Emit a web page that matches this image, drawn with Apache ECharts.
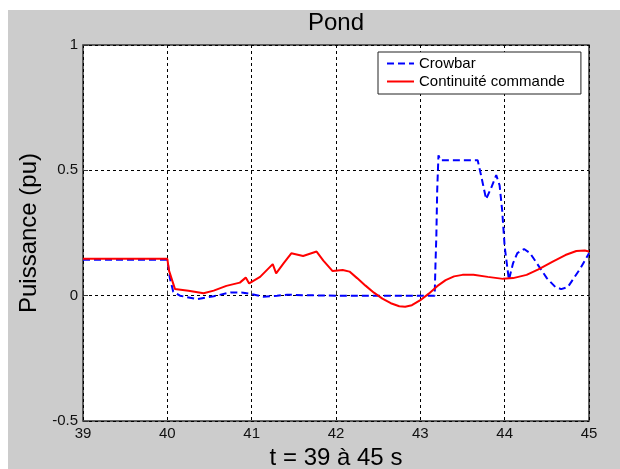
<!DOCTYPE html>
<html><head><meta charset="utf-8">
<script src="https://cdn.jsdelivr.net/npm/echarts@6/dist/echarts.min.js"></script>
<style>
html,body{margin:0;padding:0;background:#ffffff;width:620px;height:469px;overflow:hidden;}
#c{position:absolute;left:8px;top:10px;width:612px;height:459px;}
</style></head>
<body><div id="c"></div>
<script>
const titleText = 'Pond';
const xName = 't = 39 à 45 s';
const yName = 'Puissance (pu)';
const seriesNames = ['Crowbar', 'Continuité commande'];

const crowbarT = [39, 40.0, 40.03, 40.07, 40.15, 40.35, 40.55, 40.75, 40.9, 40.99, 41.14, 41.3, 41.42, 41.6, 42, 42.5, 43, 43.17, 43.18, 43.19, 43.2, 43.215, 43.24, 43.68, 43.72, 43.78, 43.84, 43.9, 43.94, 43.97, 44.0, 44.05, 44.1, 44.15, 44.23, 44.3, 44.4, 44.5, 44.6, 44.67, 44.75, 44.82, 44.9, 45];
const crowbarP = [0.143, 0.143, 0.07, 0.016, 0.0, -0.014, -0.002, 0.013, 0.012, 0.007, -0.004, 0.0, 0.004, 0.002, 0.0, 0.0, 0.0, 0.0, 0.13, 0.24, 0.42, 0.56, 0.54, 0.54, 0.48, 0.385, 0.43, 0.481, 0.44, 0.342, 0.196, 0.063, 0.13, 0.17, 0.186, 0.17, 0.12, 0.07, 0.035, 0.026, 0.035, 0.07, 0.11, 0.169];

const contT = [39, 40.0, 40.02, 40.09, 40.25, 40.43, 40.55, 40.7, 40.86, 40.93, 40.97, 41.1, 41.25, 41.29, 41.38, 41.47, 41.61, 41.77, 41.85, 41.96, 42.08, 42.16, 42.25, 42.35, 42.45, 42.55, 42.65, 42.75, 42.82, 42.9, 43.0, 43.1, 43.2, 43.3, 43.4, 43.5, 43.63, 43.8, 43.98, 44.1, 44.26, 44.4, 44.57, 44.72, 44.85, 44.95, 45];
const contP = [0.147, 0.147, 0.1, 0.027, 0.02, 0.01, 0.02, 0.039, 0.052, 0.072, 0.049, 0.075, 0.126, 0.089, 0.13, 0.169, 0.158, 0.176, 0.14, 0.098, 0.102, 0.096, 0.07, 0.04, 0.012, -0.012, -0.03, -0.042, -0.044, -0.038, -0.018, 0.008, 0.038, 0.062, 0.077, 0.083, 0.083, 0.075, 0.067, 0.07, 0.083, 0.105, 0.136, 0.162, 0.178, 0.18, 0.176];

const xMin = 39, xMax = 45, xStep = 1;
const yMin = -0.5, yMax = 1, yStep = 0.5;

const zip = (a, b) => a.map((v, i) => [v, b[i]]);
const FONT = '"Liberation Sans", Arial, sans-serif';

const chart = echarts.init(document.getElementById('c'), null, {renderer: 'canvas'});
chart.setOption({
  backgroundColor: '#cccccc',
  animation: false,
  title: {
    text: titleText, left: 328, top: 1, textAlign: 'center', padding: 0,
    textStyle: {fontFamily: FONT, fontSize: 24, fontWeight: 'normal', color: '#000'}
  },
  legend: {
    orient: 'vertical', left: 370, top: 42,
    backgroundColor: '#ffffff', borderColor: '#222', borderWidth: 1,
    padding: [4, 16, 5, 8], itemWidth: 27, itemHeight: 14, itemGap: 3,
    itemStyle: {opacity: 0},
    textStyle: {fontFamily: FONT, fontSize: 15, color: '#000'},
    data: seriesNames
  },
  grid: {
    left: 75, right: 31, top: 35, bottom: 48,
    outerBoundsMode: 'none', containLabel: false,
    show: true, backgroundColor: '#ffffff', borderColor: '#333', borderWidth: 1.5
  },
  xAxis: {
    type: 'value', min: xMin, max: xMax, interval: xStep,
    name: xName, nameLocation: 'middle', nameGap: 24,
    nameTextStyle: {fontFamily: FONT, fontSize: 24, color: '#000'},
    axisLine: {show: false},
    axisTick: {show: true, inside: true, length: 5, lineStyle: {color: '#333'}},
    axisLabel: {fontFamily: FONT, fontSize: 15, color: '#111', margin: 5},
    splitLine: {show: true, lineStyle: {color: '#000', type: [3, 3], width: 1}}
  },
  yAxis: {
    type: 'value', min: yMin, max: yMax, interval: yStep,
    name: yName, nameLocation: 'middle', nameGap: 36, nameRotate: 90,
    nameTextStyle: {fontFamily: FONT, fontSize: 24, color: '#000'},
    axisLine: {show: false},
    axisTick: {show: true, inside: true, length: 5, lineStyle: {color: '#333'}},
    axisLabel: {fontFamily: FONT, fontSize: 15, color: '#111', margin: 5},
    splitLine: {show: true, lineStyle: {color: '#000', type: [3, 3], width: 1}}
  },
  series: [
    {
      name: seriesNames[0], type: 'line', data: zip(crowbarT, crowbarP),
      showSymbol: false, symbol: 'none', smooth: false,
      lineStyle: {color: '#0000ff', width: 2, type: [7, 4]},
      itemStyle: {color: '#0000ff'}, z: 2
    },
    {
      name: seriesNames[1], type: 'line', data: zip(contT, contP),
      showSymbol: false, symbol: 'none', smooth: false,
      lineStyle: {color: '#ff0000', width: 2},
      itemStyle: {color: '#ff0000'}, z: 3
    }
  ]
});
</script></body></html>
